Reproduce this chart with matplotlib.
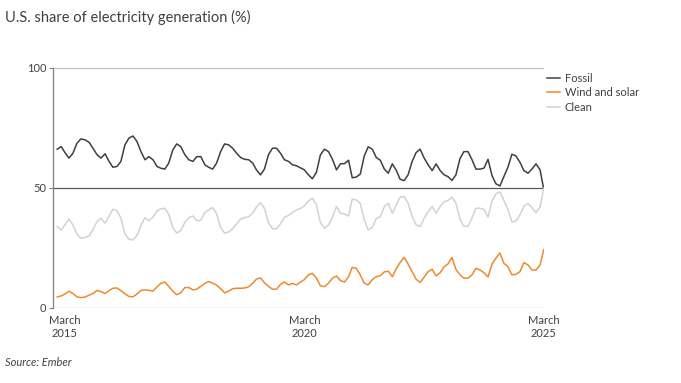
import pandas as pd
import matplotlib
matplotlib.use("Agg")
import matplotlib.pyplot as plt

plt.rcParams["font.family"] = ["Lato", "DejaVu Sans"]

# monthly, Jan 2015 .. Mar 2025 (share of US generation, %)
months = pd.date_range("2015-01-01", periods=123, freq="MS")

fossil = [
    66.1, 67.2, 64.7, 62.4, 64.4, 68.6, 70.4, 70.0, 69.0, 66.5, 63.8, 62.4,
    64.2, 61.0, 58.6, 58.9, 61.0, 67.9, 70.7, 71.6, 69.3, 65.1, 61.7, 63.0,
    61.7, 58.9, 58.2, 57.8, 60.3, 65.8, 68.3, 67.2, 63.8, 61.7, 61.0, 63.0,
    63.0, 59.6, 58.6, 57.8, 60.3, 65.1, 68.3, 67.9, 66.5, 64.4, 62.6, 61.9,
    61.7, 60.3, 57.5, 55.4, 57.8, 63.8, 66.5, 66.5, 64.4, 61.7, 61.0, 59.6,
    59.2, 58.3, 57.5, 55.4, 53.8, 56.5, 63.7, 66.1, 65.1, 61.9, 57.5, 60.0,
    60.1, 61.5, 54.2, 54.5, 55.7, 63.3, 67.1, 66.1, 62.6, 61.5, 57.8, 56.1,
    60.0, 57.2, 53.6, 53.0, 55.4, 61.0, 64.7, 66.1, 62.4, 59.6, 57.2, 60.0,
    57.2, 55.4, 54.7, 53.1, 55.4, 62.2, 65.1, 65.1, 61.7, 57.8, 57.8, 58.2,
    61.9, 55.0, 51.7, 50.8, 54.7, 58.6, 64.0, 63.3, 60.6, 57.2, 56.1, 57.8,
    60.0, 57.5, 49.5,
]

wind_solar = [
    4.6, 5.0, 5.8, 7.0, 6.0, 4.6, 4.3, 4.5, 5.3, 6.0, 7.3, 6.8,
    6.0, 7.2, 8.2, 8.3, 7.2, 5.9, 4.8, 4.6, 5.8, 7.3, 7.5, 7.3,
    7.0, 8.8, 10.2, 10.8, 9.0, 7.0, 5.5, 6.3, 8.5, 8.5, 7.5, 7.8,
    9.0, 10.2, 11.0, 10.3, 9.5, 8.0, 6.3, 7.0, 8.0, 8.2, 8.2, 8.3,
    8.8, 10.3, 12.0, 12.5, 10.5, 9.0, 7.8, 7.8, 9.8, 10.8, 9.6, 10.2,
    9.6, 10.8, 11.8, 13.8, 14.4, 12.4, 9.2, 8.9, 10.3, 12.4, 13.3, 11.4,
    10.8, 13.0, 16.9, 16.5, 13.8, 10.3, 9.6, 11.8, 13.0, 13.5, 15.0, 15.3,
    13.0, 16.5, 18.9, 21.0, 18.3, 15.1, 12.0, 10.6, 12.9, 15.1, 16.1, 13.3,
    14.7, 17.2, 18.3, 21.0, 16.1, 13.8, 12.4, 12.4, 13.8, 16.5, 15.8, 14.7,
    12.9, 18.3, 20.7, 22.9, 18.6, 17.2, 13.8, 14.0, 15.1, 18.9, 17.9, 15.8,
    15.8, 17.9, 24.2,
]

clean = [
    33.9, 32.5, 34.6, 37.0, 34.6, 30.8, 29.0, 29.3, 30.0, 32.5, 36.0, 37.4,
    35.3, 38.3, 41.1, 40.6, 37.4, 30.8, 28.6, 28.3, 30.2, 34.4, 37.6, 36.3,
    37.8, 40.5, 41.2, 41.5, 39.0, 33.5, 31.2, 32.2, 35.6, 37.6, 38.3, 36.4,
    36.5, 39.8, 40.8, 41.8, 39.2, 33.5, 31.2, 31.6, 33.0, 35.0, 37.0, 37.6,
    38.0, 39.5, 42.0, 43.8, 41.5, 35.5, 33.0, 33.0, 35.0, 37.8, 38.5, 39.8,
    40.8, 41.5, 42.5, 44.5, 45.7, 43.0, 35.5, 33.2, 34.5, 37.8, 42.2, 39.4,
    39.1, 38.3, 45.3, 45.0, 43.5, 36.7, 32.5, 33.5, 37.2, 38.0, 42.2, 43.6,
    39.4, 43.0, 46.1, 46.4, 43.6, 38.2, 34.6, 33.9, 37.4, 40.1, 42.2, 39.4,
    42.2, 44.3, 44.7, 46.1, 43.6, 37.0, 34.0, 34.0, 37.5, 41.5, 41.5, 41.0,
    37.8, 44.5, 47.5, 48.3, 44.8, 41.0, 35.8, 36.2, 38.8, 42.3, 43.5, 41.8,
    39.6, 42.0, 49.8,
]

tick_dates = ["2015-03-01", "2020-03-01", "2025-03-01"]
tick_labels = ["March\n2015", "March\n2020", "March\n2025"]

TXT = "#404040"

fig = plt.figure(figsize=(6.81, 3.83), dpi=100)
ax = fig.add_axes([0.078, 0.196, 0.721, 0.627])

ax.plot(months, fossil, color="#3f3f3f", lw=1.1, label="Fossil")
ax.plot(months, wind_solar, color="#ee8a2e", lw=1.1, label="Wind and solar")
ax.plot(months, clean, color="#d2d2d2", lw=1.1, label="Clean")

ax.set_ylim(0, 100)
ax.set_yticks([0, 50, 100])
ax.set_xlim(pd.Timestamp("2014-12-01"), pd.Timestamp("2025-03-04"))
ax.set_xticks(pd.to_datetime(tick_dates))
ax.set_xticklabels(tick_labels)
for lbl in ax.get_xticklabels():
    lbl.set_multialignment("center")

ax.axhline(100, color="#bfbfbf", lw=0.9, zorder=0)
ax.axhline(50, color="#595959", lw=0.9, zorder=0)
for s in ["top", "right", "bottom"]:
    ax.spines[s].set_visible(False)
ax.axhline(0, color="#a6a6a6", lw=0.9, zorder=0)
ax.spines["left"].set_color("#7f7f7f")
ax.spines["left"].set_linewidth(0.9)

ax.tick_params(axis="y", length=3, width=0.8, color="#7f7f7f",
               labelsize=8, labelcolor=TXT, pad=2)
ax.tick_params(axis="x", length=0, labelsize=8, labelcolor=TXT, pad=5)

ax.legend(loc="upper left", bbox_to_anchor=(0.985, 1.02), frameon=False,
          fontsize=8, handlelength=1.2, handletextpad=0.4,
          labelspacing=0.3, labelcolor=TXT)

fig.text(0.008, 0.955, "U.S. share of electricity generation (%)",
         fontsize=10.5, color=TXT, va="center")
fig.text(0.008, 0.053, "Source: Ember", fontsize=8, color=TXT,
         style="italic", va="center")

plt.savefig("out.png", dpi=100)
